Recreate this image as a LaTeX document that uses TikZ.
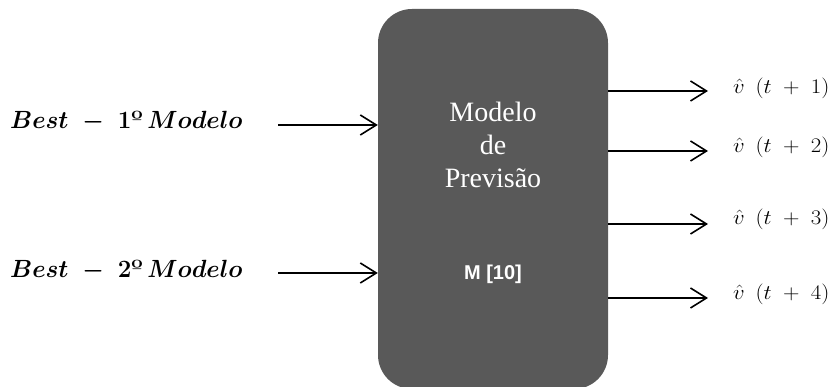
\RequirePackage{fix-cm}
\documentclass[tikz,border=0pt]{standalone}
\usepackage{fontspec}
\usepackage{amsmath}
\usetikzlibrary{arrows.meta}
\newfontfamily\serifbox{Liberation Serif}
\newfontfamily\sansbox{Liberation Sans}
\definecolor{boxgray}{HTML}{595959}
\newcommand{\ordo}{\textbf{\char"00BA}}
\newcommand{\vhat}[1]{\scalebox{1.1}[1]{$\hat{v}\ \,(t\;+\;#1)$}}
\newcommand{\bestlab}[1]{\scalebox{0.97}[1]{$Best\;-\;\mathbf{#1}$\ordo$\,Modelo$}}
\tikzset{
  conn/.style={line width=1.6pt, -{Straight Barb[length=16pt,width=20pt,line width=1.6pt]}},
  inlabel/.style={anchor=west, inner sep=0pt, font=\boldmath\fontsize{24.88}{28}\selectfont},
  outlabel/.style={anchor=west, inner sep=0pt, font=\fontsize{20.74}{24}\selectfont},
}
\begin{document}
\begin{tikzpicture}[x=1pt,y=1pt]
\useasboundingbox (0,0) rectangle (838,387);
% main box
\node (box) [fill=boxgray, rounded corners=34pt, minimum width=230pt, minimum height=380pt, inner sep=0pt] at (493,188) {};
\node (title) [text=white, align=center, font=\serifbox\fontsize{28}{33}\selectfont] at (493,242) {Modelo\\de\\Previsão};
\node (mm) [text=white, font=\sansbox\bfseries\fontsize{20}{24}\selectfont] at (493,113) {M [10]};
% inputs
\node (inA) [inlabel] at (10,266) {\bestlab{1}};
\node (inB) [inlabel] at (10,117) {\bestlab{2}};
\coordinate (s1) at (278,262);
\coordinate (s2) at (278,114);
\draw[conn] (s1) -- (s1 -| box.west);
\draw[conn] (s2) -- (s2 -| box.west);
% outputs
\node (o1) [outlabel] at (733,299) {\vhat{1}};
\node (o2) [outlabel] at (733,240) {\vhat{2}};
\node (o3) [outlabel] at (733,168) {\vhat{3}};
\node (o4) [outlabel] at (733,93) {\vhat{4}};
\coordinate (e1) at (708,296);
\coordinate (e2) at (708,236);
\coordinate (e3) at (708,163);
\coordinate (e4) at (708,89);
\draw[conn] (e1 -| box.east) -- (e1);
\draw[conn] (e2 -| box.east) -- (e2);
\draw[conn] (e3 -| box.east) -- (e3);
\draw[conn] (e4 -| box.east) -- (e4);
\end{tikzpicture}
\end{document}
